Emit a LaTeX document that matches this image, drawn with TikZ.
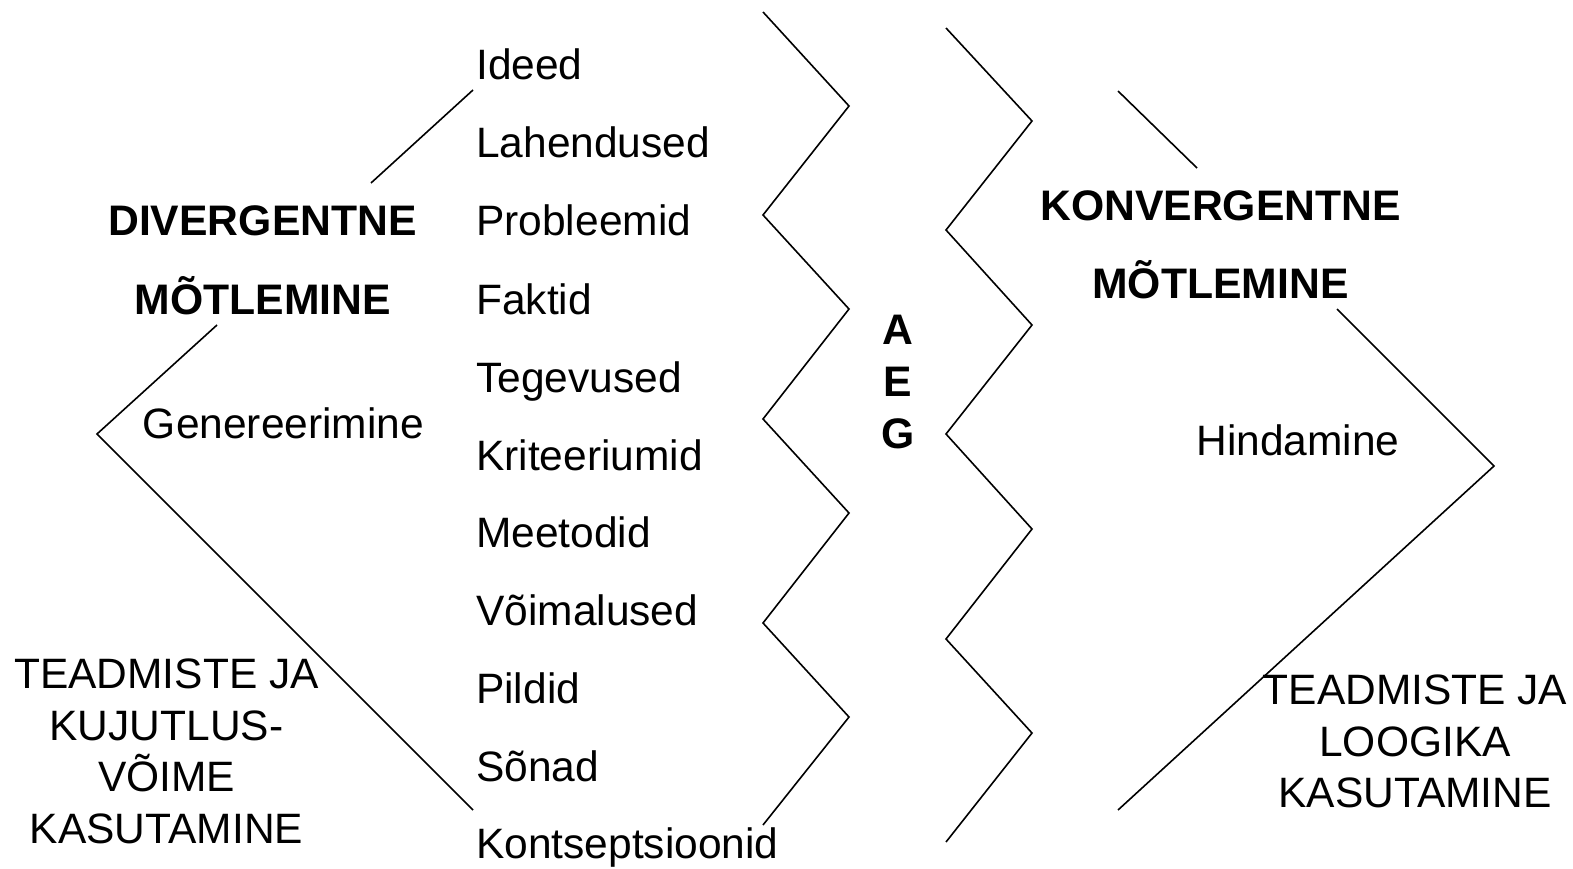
\documentclass[tikz,border=0pt]{standalone}
\usepackage{fontspec}
\setmainfont{Liberation Sans}
\begin{document}
\begin{tikzpicture}[x=1pt,y=-1pt,
  zig/.style={line width=1.6pt, black, line join=miter},
  word/.style={anchor=base west, inner sep=0pt, font=\fontsize{42.5}{50}\selectfont},
  title/.style={anchor=base, inner sep=0pt, font=\fontsize{42.7}{50}\selectfont\bfseries},
  plain/.style={anchor=base, inner sep=0pt, font=\fontsize{42.5}{50}\selectfont},
  block/.style={anchor=north, inner sep=0pt, align=center, font=\fontsize{42.5}{51.4}\selectfont}]
\useasboundingbox (0,0) rectangle (1573,869);
% zigzags
\draw[zig] (763,12) -- (849,106) -- (763,215) -- (849,309) -- (763,419) -- (849,513) -- (763,623) -- (849,717) -- (763,825);
\draw[zig] (946,28) -- (1032,121) -- (946,230) -- (1032,325) -- (946,434) -- (1032,529) -- (946,639) -- (1032,733) -- (946,842);
% left lines
\draw[zig] (473,90) -- (371,183);
\draw[zig] (217,325) -- (97,434) -- (473,810);
% right lines
\draw[zig] (1118,91) -- (1197,168);
\draw[zig] (1337,309) -- (1494,466) -- (1118,810);
% word column
\node[word] (w1) at (476,80) {Ideed};
\node[word] (w2) at (476,158) {Lahendused};
\node[word] (w3) at (476,235) {Probleemid};
\node[word] (w4) at (476,314) {Faktid};
\node[word] (w5) at (476,392) {Tegevused};
\node[word] (w6) at (476,470) {Kriteeriumid};
\node[word] (w7) at (476,547) {Meetodid};
\node[word] (w8) at (476,625) {Võimalused};
\node[word] (w9) at (476,703) {Pildid};
\node[word] (w10) at (476,781) {Sõnad};
\node[word] (w11) at (476,858) {Kontseptsioonid};
% titles
\node[title] (div1) at (262.5,235) {DIVERGENTNE};
\node[title] (div2) at (263,314) {MÕTLEMINE};
\node[plain] (gen) at (283.5,438) {Genereerimine};
\node[title] (kon1) at (1220.5,220) {KONVERGENTNE};
\node[title] (kon2) at (1220.5,298) {MÕTLEMINE};
\node[plain] (hin) at (1298,455) {Hindamine};
% AEG
\node[block, font=\fontsize{42.7}{52}\selectfont\bfseries] (aeg) at (898,315) {A\\E\\G};
% bottom blocks
\node[block] (lblock) at (166.5,659) {TEADMISTE JA\\KUJUTLUS-\\VÕIME\\KASUTAMINE};
\node[block] (rblock) at (1415,675) {TEADMISTE JA\\LOOGIKA\\KASUTAMINE};
\end{tikzpicture}
\end{document}
